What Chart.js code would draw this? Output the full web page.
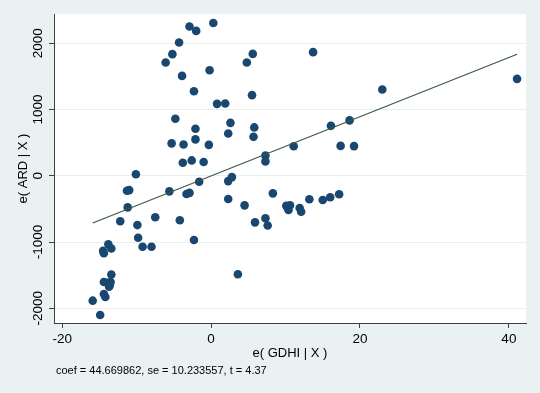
<!DOCTYPE html>
<html>
<head>
<meta charset="utf-8">
<script src="https://cdn.jsdelivr.net/npm/chart.js@4"></script>
<style>
  body { margin: 0; background: #eaf1f3; }
  canvas { display: block; }
</style>
</head>
<body>
<canvas id="avplot" width="540" height="393"></canvas>
<script>
// residuals
const gdhiResid = [
  -11.3, -11.0, -10.1, -6.1, -5.2, -4.3, -2.9, -2.0, 0.3, -3.9,
  -0.2, -2.3, 0.8, 1.9, -4.8, -2.1, 2.6, 2.3, 5.7, 5.8,
  5.5, 4.8, 5.6, -5.3, -3.7, -2.1, -0.3, -3.8, -2.6, -1.0,
  -1.6, 2.3, 2.8, 7.3, 7.3, -5.6, -3.3, -2.9, 2.3, 8.3,
  -11.2, -12.2, -9.9, -7.5, -4.2, 4.5, 5.9, 7.3, 7.6, -9.8,
  -2.3, -9.2, -8.0, -13.8, -14.5, -14.4, -13.4, -13.4, -14.4, -13.9,
  -13.6, -13.7, -13.5, -14.4, -14.2, -15.9, -14.9, 3.6, 11.1, 17.4,
  19.2, 13.7, 41.1, 23.0, 16.1, 18.6, 13.2, 15.0, 16.0, 17.2,
  10.1, 10.6, 10.4, 10.3, 11.9, 12.1
];
const ardResid = [
  -226, -216, 23, 1710, 1836, 2012, 2253, 2187, 2307, 1508,
  1594, 1277, 1086, 1092, 860, 709, 799, 639, 588, 730,
  1217, 1710, 1840, 489, 473, 549, 467, 196, 232, 207,
  -90, -80, -20, 305, 217, -235, -276, -258, -351, -265,
  -477, -686, -744, -626, -671, -446, -703, -641, -751, -935,
  -970, -1071, -1071, -1033, -1133, -1170, -1098, -1490, -1603, -1614,
  -1648, -1674, -1603, -1784, -1829, -1885, -2101, -1487, 445, 451,
  448, 1866, 1463, 1303, 754, 836, -354, -366, -324, -279,
  -454, -445, -517, -487, -487, -543
];
// fitted line end points
const fitX = [-15.9, 41.1];
const fitY = [-713, 1835];

const xTicks = [-20, 0, 20, 40];
const yTicks = [-2000, -1000, 0, 1000, 2000];
const xTitle = 'e( GDHI | X )';
const yTitle = 'e( ARD | X )';
const note = 'coef = 44.669862, se = 10.233557, t = 4.37';

const FONT = '"Liberation Sans", Arial, Helvetica, sans-serif';

const stataLook = {
  id: 'stataLook',
  beforeDraw(chart) {
    const { ctx, chartArea: a } = chart;
    ctx.save();
    ctx.fillStyle = '#eaf1f3';
    ctx.fillRect(0, 0, chart.width, chart.height);
    ctx.fillStyle = '#ffffff';
    ctx.fillRect(a.left, a.top, a.right - a.left, a.bottom - a.top);
    ctx.restore();
  },
  afterDraw(chart) {
    const { ctx, chartArea: a } = chart;
    const y = chart.scales.y;
    ctx.save();
    ctx.fillStyle = '#000';
    ctx.textAlign = 'center';
    ctx.textBaseline = 'middle';
    ctx.font = '13.5px ' + FONT;
    yTicks.forEach((v) => {
      ctx.save();
      ctx.translate(38, y.getPixelForValue(v));
      ctx.rotate(-Math.PI / 2);
      ctx.fillText(String(v).replace('-', '-'), 0, 0);
      ctx.restore();
    });
    ctx.font = '13px ' + FONT;
    ctx.save();
    ctx.translate(23, (a.top + a.bottom) / 2);
    ctx.rotate(-Math.PI / 2);
    ctx.fillText(yTitle, 0, 0);
    ctx.restore();
    ctx.fillText(xTitle, (a.left + a.right) / 2, 353);
    ctx.textAlign = 'left';
    ctx.font = '11px ' + FONT;
    ctx.fillText(note, 56, 371);
    ctx.restore();
  }
};

new Chart(document.getElementById('avplot'), {
  type: 'scatter',
  data: {
    datasets: [
      {
        type: 'line',
        data: fitX.map((x, i) => ({ x, y: fitY[i] })),
        borderColor: '#3d5848',
        borderWidth: 1.2,
        pointRadius: 0,
        fill: false,
        order: 0,
      },
      {
        data: gdhiResid.map((x, i) => ({ x, y: ardResid[i] })),
        backgroundColor: '#1a476f',
        borderColor: '#1a476f',
        borderWidth: 0,
        pointRadius: 4.3,
        order: 1,
      },
    ],
  },
  options: {
    responsive: false,
    animation: false,
    layout: { padding: { left: 0, top: 14, right: 14, bottom: 0 } },
    plugins: { legend: { display: false }, tooltip: { enabled: false } },
    scales: {
      x: {
        type: 'linear',
        min: -21.1,
        max: 42.3,
        afterBuildTicks: (s) => { s.ticks = xTicks.map((v) => ({ value: v })); },
        afterFit: (s) => { s.height = 70; },
        ticks: {
          color: '#000',
          font: { family: FONT, size: 13.5 },
          padding: 3,
          maxRotation: 0,
        },
        grid: { drawOnChartArea: false, tickLength: 5, tickColor: '#404040' },
        border: { color: '#404040', width: 1 },
      },
      y: {
        type: 'linear',
        min: -2222,
        max: 2442,
        afterBuildTicks: (s) => { s.ticks = yTicks.map((v) => ({ value: v })); },
        afterFit: (s) => { s.width = 54; },
        ticks: { display: false },
        grid: { color: '#e8eff1', lineWidth: 1, tickLength: 5, tickColor: '#404040' },
        border: { color: '#404040', width: 1 },
      },
    },
  },
  plugins: [stataLook],
});
</script>
</body>
</html>
